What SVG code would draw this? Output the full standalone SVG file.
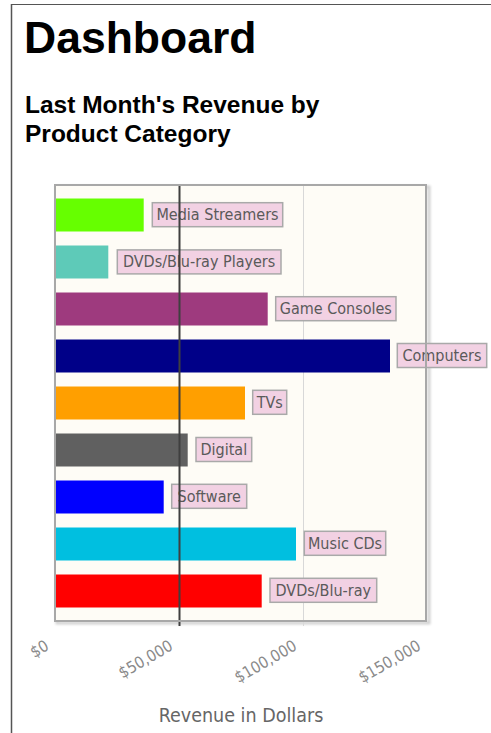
<svg xmlns="http://www.w3.org/2000/svg" width="491" height="733" viewBox="0 0 491 733">
  <style>
    .title { font-family: "Liberation Sans", Arial, sans-serif; font-weight: bold; fill: #000; }
    .lbl-box { fill: #f2d1e3; stroke: #a9a9a9; stroke-width: 1.5; }
    .lbl { font-family: "DejaVu Sans Condensed", "DejaVu Sans", sans-serif; font-size: 16px; fill: #5a5a5a; text-anchor: middle; }
    .tick { font-family: "DejaVu Sans Condensed", "DejaVu Sans", sans-serif; font-size: 16px; fill: #8a8a8a; text-anchor: end; }
    .axis-title { font-family: "DejaVu Sans Condensed", "DejaVu Sans", sans-serif; font-size: 19.5px; fill: #666; text-anchor: middle; }
  </style>
  <defs>
    <filter id="shadow" x="-5%" y="-5%" width="110%" height="110%">
      <feGaussianBlur stdDeviation="1.2"/>
    </filter>
  </defs>

  <rect x="0" y="0" width="491" height="733" fill="#fff"/>
  <!-- page frame -->
  <line x1="11" y1="4.5" x2="491" y2="4.5" stroke="#555" stroke-width="1.2"/>
  <line x1="11.5" y1="4" x2="11.5" y2="733" stroke="#555" stroke-width="1.5"/>

  <!-- headings -->
  <text class="title" x="24" y="52.7" font-size="44.5">Dashboard</text>
  <text class="title" x="25" y="113.3" font-size="24.5">Last Month's Revenue by</text>
  <text class="title" x="25" y="141.7" font-size="24.5">Product Category</text>

  <!-- plot area -->
  <g id="plot-area">
    <rect x="57" y="187" width="372" height="436" fill="none" stroke="#000" stroke-opacity="0.18" stroke-width="3" filter="url(#shadow)"/>
    <rect x="55" y="185" width="371" height="436" fill="#fefcf6"/>
    <line x1="303.5" y1="185" x2="303.5" y2="626" stroke="#d8d8d8" stroke-width="1"/>
  </g>

  <g id="bars">
    <g id="bar-media-streamers">
      <rect x="55" y="198.5" width="88.7" height="33" fill="#66ff00"/>
      <rect class="lbl-box" x="152.3" y="202.7" width="130.4" height="24"/>
      <text class="lbl" x="217.5" y="220.2">Media Streamers</text>
    </g>
    <g id="bar-dvd-players">
      <rect x="55" y="245.5" width="53.3" height="33" fill="#5ecab8"/>
      <rect class="lbl-box" x="117.3" y="249.9" width="163.7" height="24"/>
      <text class="lbl" x="199.1" y="267.3">DVDs/Blu-ray Players</text>
    </g>
    <g id="bar-game-consoles">
      <rect x="55" y="292.5" width="212.7" height="33" fill="#9e3a7e"/>
      <rect class="lbl-box" x="275.7" y="296.7" width="120.3" height="24"/>
      <text class="lbl" x="335.8" y="314.2">Game Consoles</text>
    </g>
    <g id="bar-computers">
      <rect x="55" y="339.5" width="335" height="33" fill="#000088"/>
      <rect class="lbl-box" x="397.3" y="343.5" width="89.4" height="24"/>
      <text class="lbl" x="442" y="361">Computers</text>
    </g>
    <g id="bar-tvs">
      <rect x="55" y="386.5" width="190" height="33" fill="#ff9f00"/>
      <rect class="lbl-box" x="252.7" y="390.3" width="34" height="24"/>
      <text class="lbl" x="269.7" y="407.8">TVs</text>
    </g>
    <g id="bar-digital">
      <rect x="55" y="433.5" width="132.7" height="33" fill="#606060"/>
      <rect class="lbl-box" x="196" y="437.5" width="55.7" height="24"/>
      <text class="lbl" x="223.8" y="455">Digital</text>
    </g>
    <g id="bar-software">
      <rect x="55" y="480.5" width="108.7" height="33" fill="#0000ff"/>
      <rect class="lbl-box" x="171.7" y="484.3" width="75" height="24"/>
      <text class="lbl" x="209.2" y="501.8">Software</text>
    </g>
    <g id="bar-music-cds">
      <rect x="55" y="527.5" width="241" height="33" fill="#00bfe0"/>
      <rect class="lbl-box" x="304.3" y="531.3" width="81.4" height="24"/>
      <text class="lbl" x="345" y="548.8">Music CDs</text>
    </g>
    <g id="bar-dvd-bluray">
      <rect x="55" y="574.5" width="206.7" height="33" fill="#ff0000"/>
      <rect class="lbl-box" x="270" y="578.3" width="106.7" height="24"/>
      <text class="lbl" x="323.3" y="595.8">DVDs/Blu-ray</text>
    </g>
  </g>

  <!-- reference line at $50,000 -->
  <line x1="179.5" y1="185" x2="179.5" y2="626" stroke="#3f3f3f" stroke-width="2"/>

  <!-- plot frame -->
  <rect x="55" y="185" width="371" height="436" fill="none" stroke="#a8a8a8" stroke-width="2"/>

  <!-- x axis -->
  <g id="x-axis">
    <text class="tick" transform="translate(50,649) rotate(-30)">$0</text>
    <text class="tick" transform="translate(174,649) rotate(-30)">$50,000</text>
    <text class="tick" transform="translate(298,649) rotate(-30)">$100,000</text>
    <text class="tick" transform="translate(422,649) rotate(-30)">$150,000</text>
    <text class="axis-title" x="241" y="721.7">Revenue in Dollars</text>
  </g>
</svg>
